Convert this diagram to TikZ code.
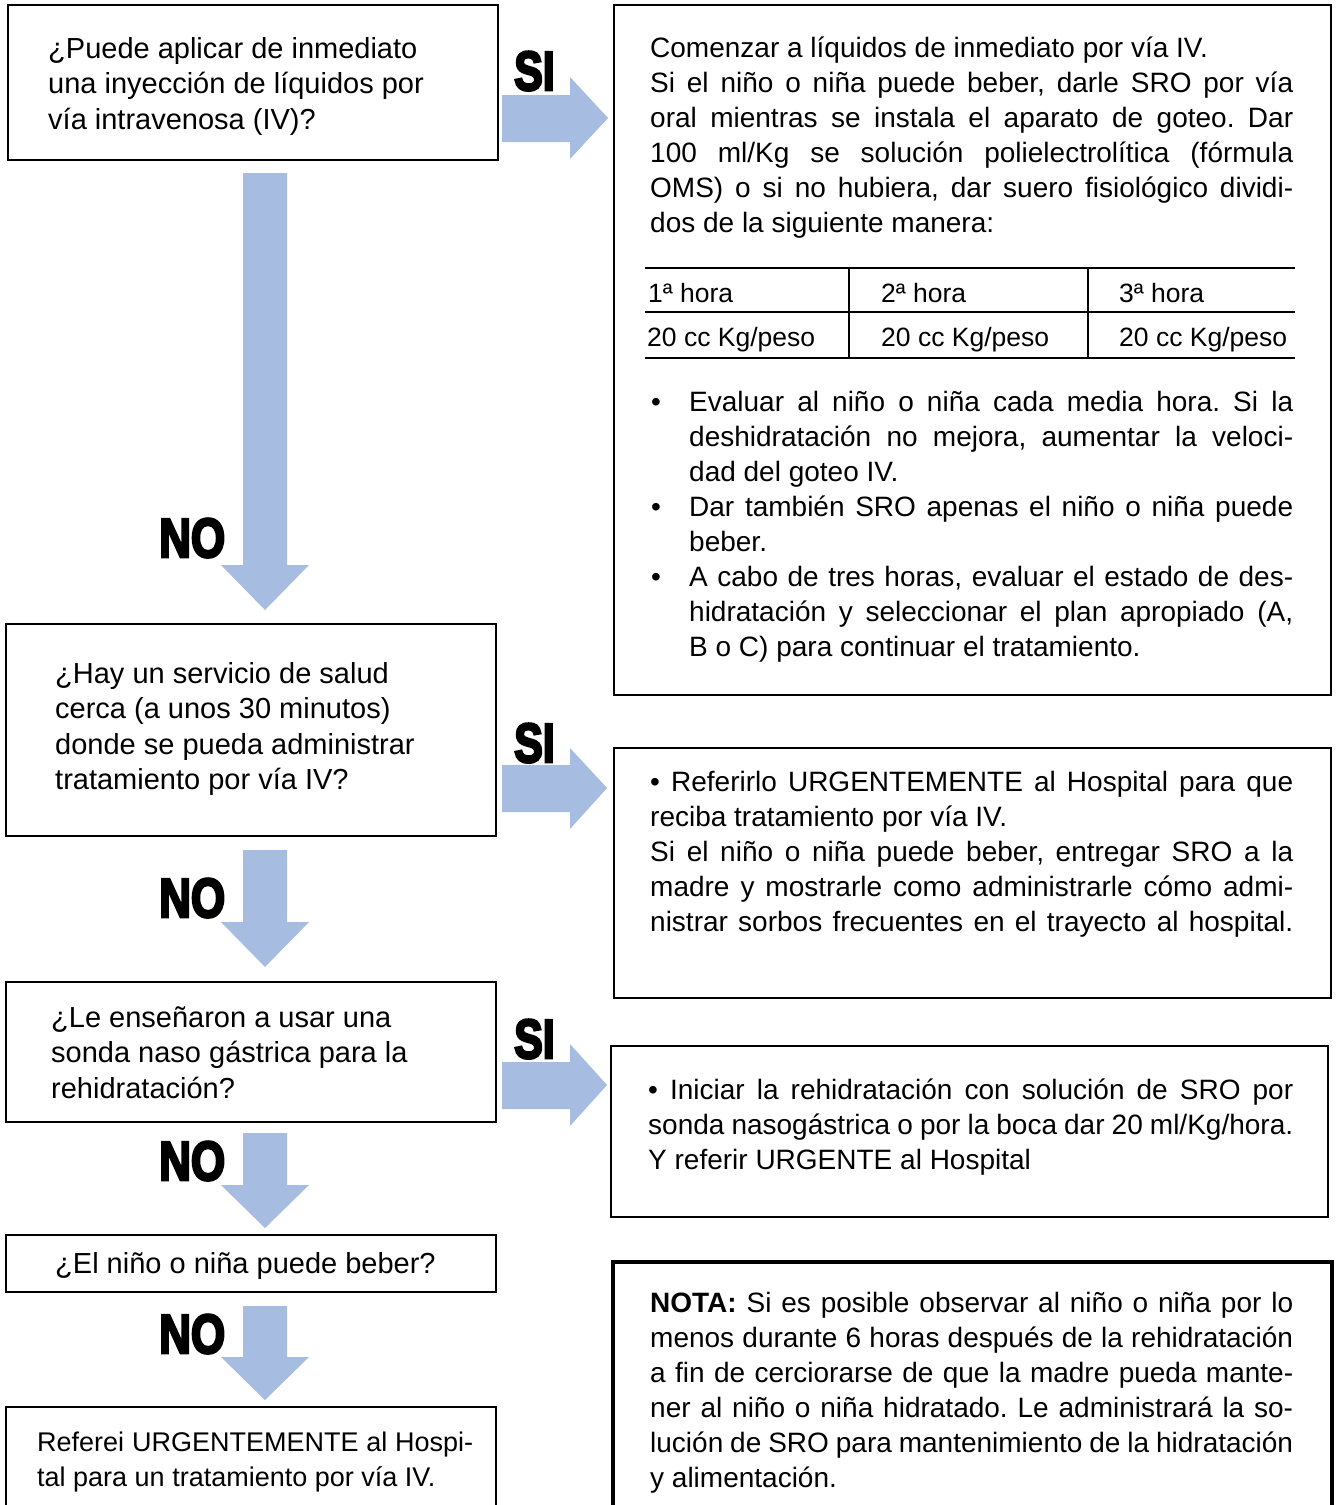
\documentclass[tikz,border=0pt]{standalone}
\usepackage{fontspec}
\usepackage{graphicx}
\setmainfont{Liberation Sans}
\newfontfamily\heavyfont[FakeBold=5]{Liberation Sans}
\definecolor{arrowblue}{RGB}{166,188,224}
\frenchspacing
\newlength\lw
\newcommand\jl[1]{\hbox to \lw{#1}}
\newcommand\pl[1]{\hbox{#1}}
\newcommand\bl[1]{\hbox{\hbox to 39pt{\hskip1pt •\hss}\hbox to \lw{#1}}}
\newcommand\cl[1]{\hbox{\hskip39pt\hbox to \lw{#1}}}
\newcommand\cp[1]{\hbox{\hskip39pt #1}}
\newcommand\tblock[3]{\vtop{\lw=#1\relax\baselineskip=#2\relax\lineskiplimit=-100pt\lineskip=0pt #3}}
\tikzset{
  boxn/.style={draw=black, line width=2pt, anchor=north west, inner sep=0pt, outer sep=0pt},
  txtR/.style={anchor=base west, inner sep=0pt, font=\fontsize{28}{35}\selectfont},
  txtL/.style={anchor=base west, inner sep=0pt, font=\fontsize{29}{35.5}\selectfont},
  tcell/.style={anchor=base west, inner sep=0pt, font=\fontsize{26.5}{30}\selectfont},
  lab/.style={anchor=base west, inner sep=0pt, font=\heavyfont\bfseries\fontsize{55}{55}\selectfont},
  blockarrow/.style={fill=arrowblue, draw=none},
  tline/.style={line width=1.6pt, black}
}
\begin{document}
\begin{tikzpicture}[x=1pt,y=-1pt]
\useasboundingbox (0,0) rectangle (1336,1505);
\fill[white] (0,0) rectangle (1336,1505);

% boxes
\node[boxn, minimum width=490pt, minimum height=155pt] (qA) at (8,5) {};
\node[boxn, minimum width=717pt, minimum height=690pt] (rA) at (614,5) {};
\node[boxn, minimum width=490pt, minimum height=212pt] (qB) at (6,624) {};
\node[boxn, minimum width=717pt, minimum height=250pt] (rB) at (614,748) {};
\node[boxn, minimum width=490pt, minimum height=140pt] (qC) at (6,982) {};
\node[boxn, minimum width=717pt, minimum height=171pt] (rC) at (611,1046) {};
\node[boxn, minimum width=490pt, minimum height=57pt] (qD) at (6,1235) {};
\node[boxn, minimum width=490pt, minimum height=110pt] (qE) at (6,1407) {};
\node[boxn, line width=4pt, minimum width=719pt, minimum height=262pt] (nota) at (613,1262) {};

% block arrows (down)
\fill[blockarrow] (243,173) -- (287,173) -- (287,565) -- (309,565) -- (265,610) -- (221,565) -- (243,565) -- cycle;
\fill[blockarrow] (243,850) -- (287,850) -- (287,922) -- (309,922) -- (265,967) -- (221,922) -- (243,922) -- cycle;
\fill[blockarrow] (243,1133) -- (287,1133) -- (287,1185) -- (309,1185) -- (265,1228) -- (221,1185) -- (243,1185) -- cycle;
\fill[blockarrow] (243,1306) -- (287,1306) -- (287,1357) -- (309,1357) -- (265,1400) -- (221,1357) -- (243,1357) -- cycle;
% block arrows (right)
\fill[blockarrow] (502,95) -- (570,95) -- (570,77) -- (608,118) -- (570,159) -- (570,142) -- (502,142) -- cycle;
\fill[blockarrow] (502,765) -- (570,765) -- (570,748) -- (607,788) -- (570,829) -- (570,812) -- (502,812) -- cycle;
\fill[blockarrow] (502,1062) -- (570,1062) -- (570,1044) -- (607,1085) -- (570,1126) -- (570,1109) -- (502,1109) -- cycle;

% labels
\node[lab] (si1) at (514,90) {\scalebox{0.78}[1]{SI}};
\node[lab] (si2) at (514,762) {\scalebox{0.78}[1]{SI}};
\node[lab] (si3) at (514,1058) {\scalebox{0.78}[1]{SI}};
\node[lab] (no1) at (159,557) {\scalebox{0.8}[1]{NO}};
\node[lab] (no2) at (159,917) {\scalebox{0.8}[1]{NO}};
\node[lab] (no3) at (159,1180) {\scalebox{0.8}[1]{NO}};
\node[lab] (no4) at (159,1353) {\scalebox{0.8}[1]{NO}};

% left texts
\node[txtL] (tqA) at (48,58) {\tblock{440pt}{35.5pt}{
  \pl{¿Puede aplicar de inmediato}
  \pl{una inyección de líquidos por}
  \pl{vía intravenosa (IV)?}}};
\node[txtL] (tqB) at (55,683) {\tblock{440pt}{35.5pt}{
  \pl{¿Hay un servicio de salud}
  \pl{cerca (a unos 30 minutos)}
  \pl{donde se pueda administrar}
  \pl{tratamiento por vía IV?}}};
\node[txtL] (tqC) at (51,1027) {\tblock{440pt}{35.5pt}{
  \pl{¿Le enseñaron a usar una}
  \pl{sonda naso gástrica para la}
  \pl{rehidratación?}}};
\node[txtL] (tqD) at (55,1273) {¿El niño o niña puede beber?};
\node[txtL, font=\fontsize{27}{35}\selectfont] (tqE) at (37,1451) {\tblock{436pt}{35pt}{
  \jl{Referei URGENTEMENTE al Hospi-}
  \pl{tal para un tratamiento por vía IV.}}};

% right box 1
\node[txtR] (trA) at (650,57) {\tblock{643pt}{35pt}{
  \pl{Comenzar a líquidos de inmediato por vía IV.}
  \jl{Si el niño o niña puede beber, darle SRO por vía}
  \jl{oral mientras se instala el aparato de goteo. Dar}
  \jl{100 ml/Kg se solución polielectrolítica (fórmula}
  \jl{OMS) o si no hubiera, dar suero fisiológico dividi-}
  \pl{dos de la siguiente manera:}}};

% table
\draw[tline] (645,268) -- (1295,268);
\draw[tline] (645,312) -- (1295,312);
\draw[tline] (645,358) -- (1295,358);
\draw[tline] (849,268) -- (849,358);
\draw[tline] (1088,268) -- (1088,358);
\node[tcell] (h1) at (648,302) {1ª hora};
\node[tcell] (h2) at (881,302) {2ª hora};
\node[tcell] (h3) at (1119,302) {3ª hora};
\node[tcell] (p1) at (647,346) {20 cc Kg/peso};
\node[tcell] (p2) at (881,346) {20 cc Kg/peso};
\node[tcell] (p3) at (1119,346) {20 cc Kg/peso};

% bullets
\node[txtR] (trAb) at (650,411) {\tblock{604pt}{35pt}{
  \bl{Evaluar al niño o niña cada media hora. Si la}
  \cl{deshidratación no mejora, aumentar la veloci-}
  \cp{dad del goteo IV.}
  \bl{Dar también SRO apenas el niño o niña puede}
  \cp{beber.}
  \bl{A cabo de tres horas, evaluar el estado de des-}
  \cl{hidratación y seleccionar el plan apropiado (A,}
  \cp{B o C) para continuar el tratamiento.}}};

% right box 2
\node[txtR] (trB) at (650,791) {\tblock{643pt}{35pt}{
  \jl{• Referirlo URGENTEMENTE al Hospital para que}
  \pl{reciba tratamiento por vía IV.}
  \jl{Si el niño o niña puede beber, entregar SRO a la}
  \jl{madre y mostrarle como administrarle cómo admi-}
  \jl{nistrar sorbos frecuentes en el trayecto al hospital.}}};

% right box 3
\node[txtR] (trC) at (648,1099) {\tblock{645pt}{35pt}{
  \jl{• Iniciar la rehidratación con solución de SRO por}
  \jl{sonda nasogástrica o por la boca dar 20 ml/Kg/hora.}
  \pl{Y referir URGENTE al Hospital}}};

% nota
\node[txtR] (tnota) at (650,1312) {\tblock{643pt}{35pt}{
  \jl{\textbf{NOTA:} Si es posible observar al niño o niña por lo}
  \jl{menos durante 6 horas después de la rehidratación}
  \jl{a fin de cerciorarse de que la madre pueda mante-}
  \jl{ner al niño o niña hidratado. Le administrará la so-}
  \jl{lución de SRO para mantenimiento de la hidratación}
  \pl{y alimentación.}}};
\end{tikzpicture}
\end{document}
